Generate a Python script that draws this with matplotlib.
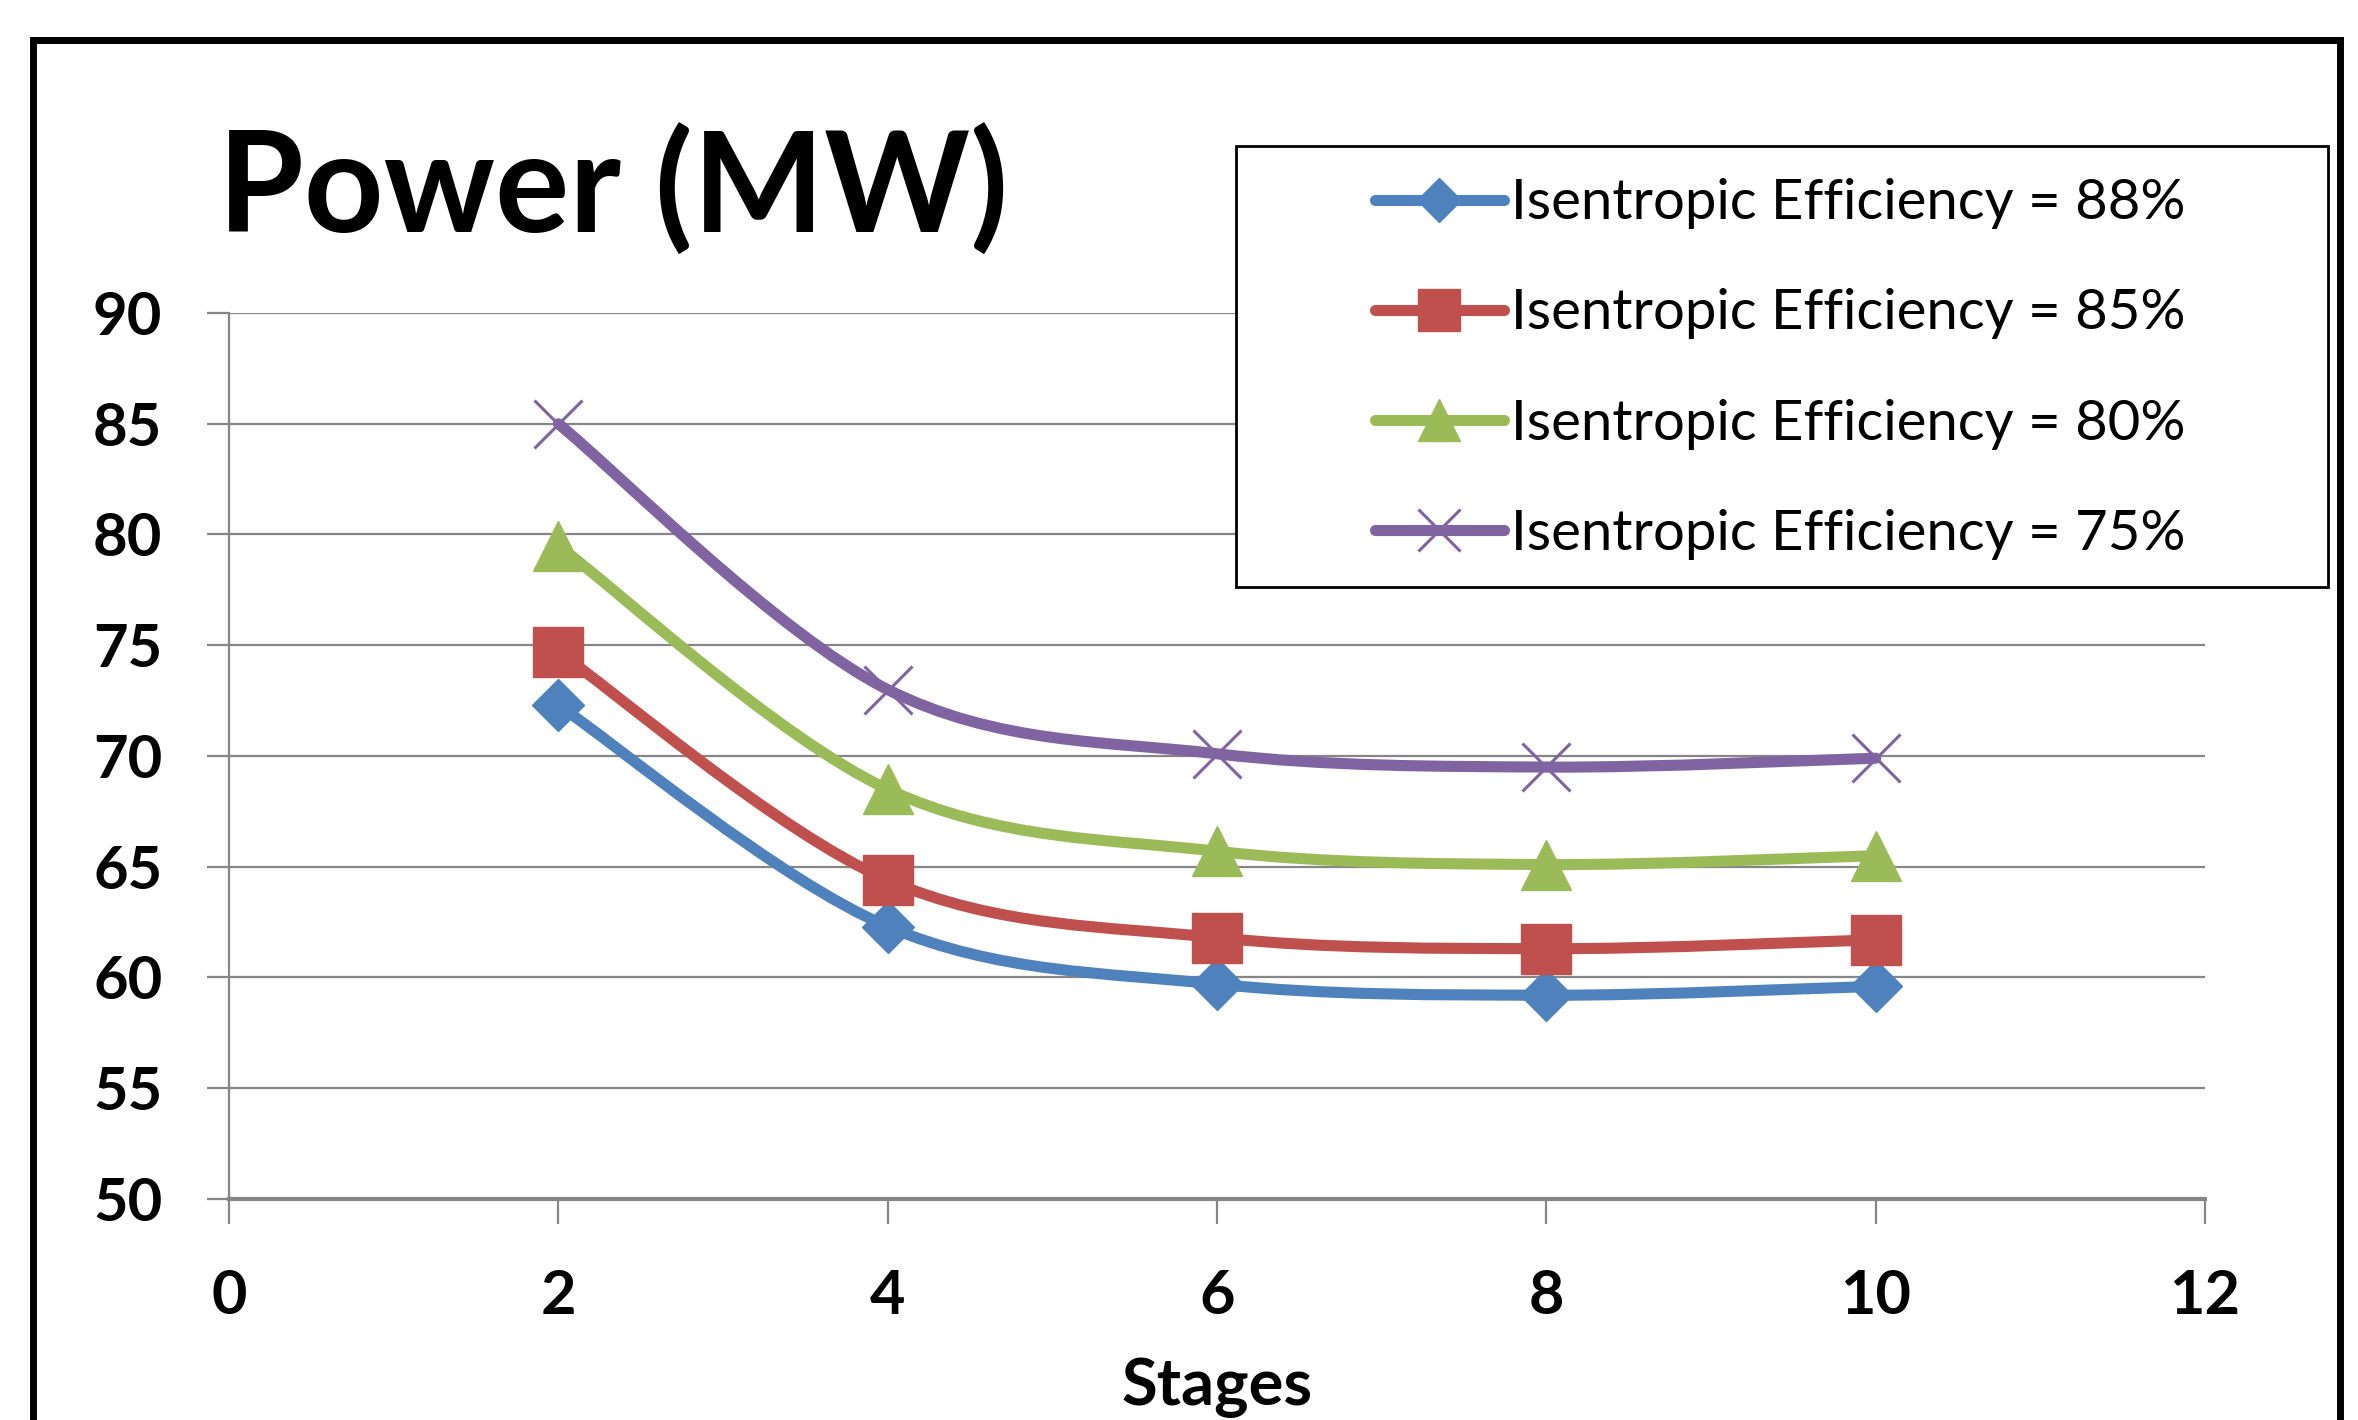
import numpy as np
import matplotlib.pyplot as plt
from matplotlib.path import Path
from matplotlib.patches import PathPatch, Rectangle
from matplotlib.lines import Line2D

plt.rcParams['font.family'] = ['Lato', 'DejaVu Sans']

# data
stages = [2, 4, 6, 8, 10]
eff_88 = [72.3, 62.3, 59.7, 59.2, 59.6]
eff_85 = [74.7, 64.4, 61.8, 61.3, 61.7]
eff_80 = [79.5, 68.5, 65.7, 65.1, 65.5]
eff_75 = [85.0, 73.0, 70.1, 69.5, 69.9]

labels = ['Isentropic Efficiency = 88%', 'Isentropic Efficiency = 85%',
          'Isentropic Efficiency = 80%', 'Isentropic Efficiency = 75%']
colors = ['#4F81BD', '#C0504D', '#9BBB59', '#8064A2']
markers = ['D', 's', '^', 'x']
msizes = [26, 36, 36, 35]
series = [eff_88, eff_85, eff_80, eff_75]


def smooth_path(x, y):
    # Excel-like smoothed line: cubic bezier through the points
    p = np.column_stack([x, y]).astype(float)
    n = len(p)
    verts = [p[0]]
    codes = [Path.MOVETO]
    for i in range(n - 1):
        prev = p[i - 1] if i > 0 else p[i]
        nxt = p[i + 2] if i + 2 < n else p[i + 1]
        c1 = p[i] + (p[i + 1] - prev) / 6.0
        c2 = p[i + 1] - (nxt - p[i]) / 6.0
        verts += [c1, c2, p[i + 1]]
        codes += [Path.CURVE4] * 3
    return Path(verts, codes)


fig = plt.figure(figsize=(23.58, 14.2), dpi=100)
ax = fig.add_axes([229 / 2358, 1 - 1199 / 1420, 1976 / 2358, 886 / 1420])

grid_col = '#868686'
for yv in range(55, 91, 5):
    ax.axhline(yv, color=grid_col, lw=1.6, zorder=1)

lw = 8
handles = []
for vals, lab, col, mk, ms in zip(series, labels, colors, markers, msizes):
    ax.add_patch(PathPatch(smooth_path(stages, vals), fill=False, edgecolor=col,
                           lw=lw, capstyle='round', joinstyle='round', zorder=3))
    if mk == 'x':
        ax.plot(stages, vals, ls='none', marker=mk, ms=ms, mew=2.2, color=col, zorder=4)
    else:
        ax.plot(stages, vals, ls='none', marker=mk, ms=ms, color=col, mec=col, zorder=4)
    handles.append(Line2D([], [], color=col, lw=lw, marker=mk, ms=ms * 0.85,
                          mew=2.2 if mk == 'x' else 1, solid_capstyle='round'))

ax.set_xlim(0, 12)
ax.set_ylim(50, 90)
ax.set_xticks(range(0, 13, 2))
ax.set_yticks(range(50, 91, 5))

for s in ['top', 'right']:
    ax.spines[s].set_visible(False)
ax.spines['left'].set_color(grid_col)
ax.spines['left'].set_linewidth(1.6)
ax.spines['bottom'].set_color(grid_col)
ax.spines['bottom'].set_linewidth(3)

ax.tick_params(axis='y', direction='out', length=16, width=1.6, color=grid_col,
               pad=32, labelsize=43)
ax.tick_params(axis='x', direction='out', length=18, width=1.6, color=grid_col,
               pad=32, labelsize=44)
for t in ax.get_xticklabels() + ax.get_yticklabels():
    t.set_fontweight('bold')

ax.set_xlabel('Stages', fontsize=47, fontweight='bold', labelpad=24)

fig.text(218 / 2358, 1 - 233 / 1420, 'Power (MW)', fontsize=100, fontweight='bold',
         ha='left', va='baseline')

# legend box (white, covers the gridlines)
fig.patches.append(Rectangle((1236 / 2358, 1 - 587 / 1420), 1092 / 2358, 441 / 1420,
                             transform=fig.transFigure, facecolor='white',
                             edgecolor='black', lw=2, zorder=2))
leg = fig.legend(handles, labels, loc='center', bbox_to_anchor=(1780 / 2358, 1 - 369 / 1420),
                 frameon=False, fontsize=40.5, handlelength=2.3, handletextpad=0.12,
                 labelspacing=1.05, borderpad=0)
leg.set_zorder(3)

# outer chart border
fig.patches.append(Rectangle((33 / 2358, -0.1), 2307 / 2358, 1.1 - 40 / 1420,
                             transform=fig.transFigure, fill=False, edgecolor='black',
                             lw=5, zorder=2))

fig.savefig('out.png', dpi=100)
